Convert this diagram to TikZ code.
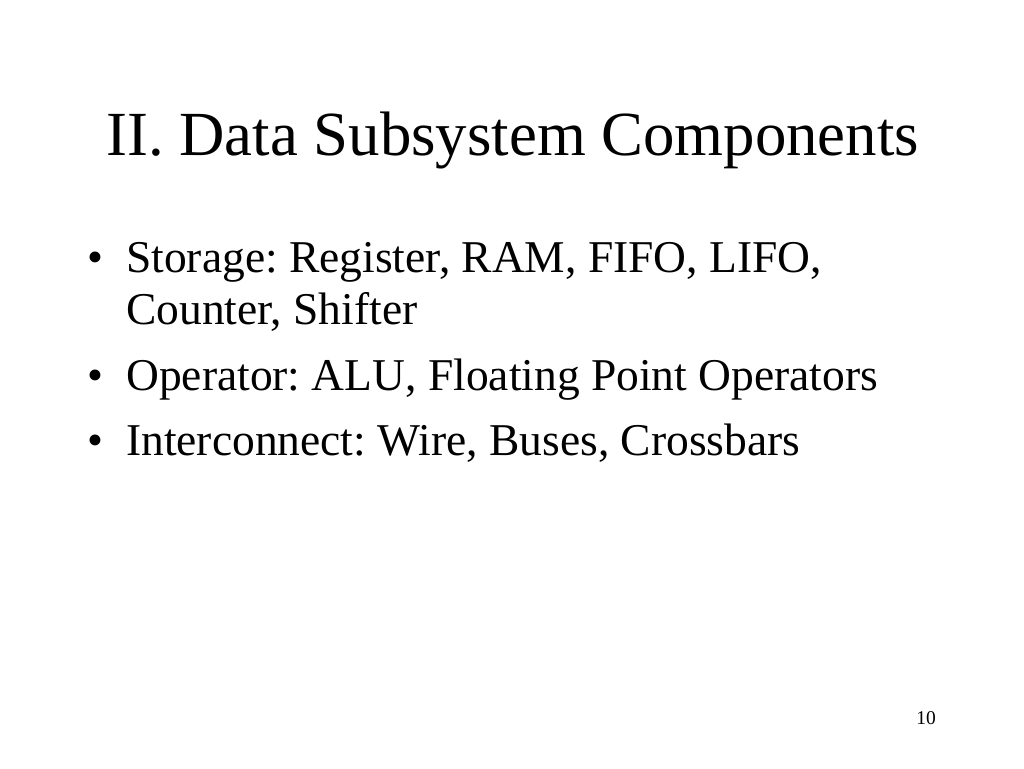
\documentclass[tikz,border=0pt]{standalone}
\usepackage{fontspec}
\setmainfont{Liberation Serif}
\begin{document}
\frenchspacing
\begin{tikzpicture}[x=1pt,y=-1pt,
  txt/.style={anchor=base west,inner sep=0pt,font=\fontsize{45.5}{52}\selectfont},
  bul/.style={anchor=base west,inner sep=0pt,font=\fontsize{45.5}{52}\selectfont}]
\useasboundingbox[fill=white] (0,0) rectangle (1024,768);
\node[anchor=base west,inner sep=0pt,font=\fontsize{62.8}{70}\selectfont] (title) at (106,155) {II. Data Subsystem Components};
\node[bul] (b1) at (87,272) {•};
\node[txt] (t1a) at (126,272) {Storage: Register, RAM, FIFO, LIFO,};
\node[txt] (t1b) at (126,324) {Counter, Shifter};
\node[bul] (b2) at (87,390) {•};
\node[txt] (t2) at (126,390) {Operator: ALU, Floating Point Operators};
\node[bul] (b3) at (87,455) {•};
\node[txt] (t3) at (126,455) {Interconnect: Wire, Buses, Crossbars};
\node[anchor=base east,inner sep=0pt,font=\fontsize{19.5}{24}\selectfont] (pg) at (936,724) {10};
\end{tikzpicture}
\end{document}
